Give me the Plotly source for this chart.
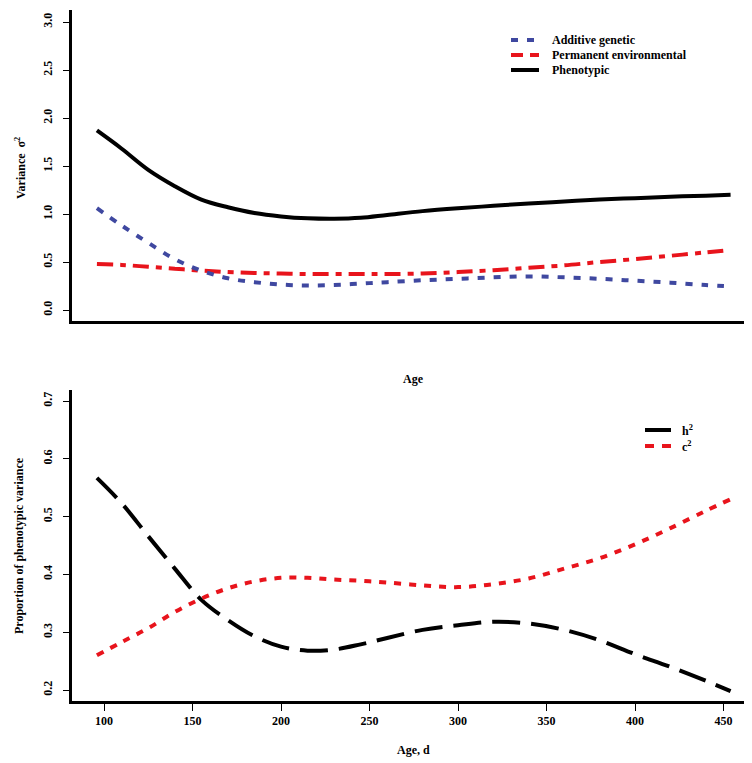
import plotly.graph_objects as go

# ---- data ----
ages = [96, 110, 125, 140, 155, 170, 185, 200, 215, 230, 245, 260, 280, 300, 320, 340, 360, 380, 400, 420, 440, 454]
additive_genetic = [1.06, 0.88, 0.70, 0.53, 0.41, 0.33, 0.29, 0.265, 0.255, 0.26, 0.275, 0.29, 0.31, 0.325, 0.34, 0.35, 0.34, 0.325, 0.305, 0.285, 0.26, 0.245]
permanent_env = [0.48, 0.47, 0.45, 0.43, 0.41, 0.395, 0.385, 0.38, 0.375, 0.375, 0.375, 0.375, 0.38, 0.395, 0.415, 0.44, 0.465, 0.50, 0.53, 0.565, 0.60, 0.625]
phenotypic = [1.87, 1.68, 1.46, 1.29, 1.15, 1.07, 1.01, 0.975, 0.955, 0.95, 0.96, 0.99, 1.03, 1.06, 1.085, 1.11, 1.13, 1.15, 1.165, 1.18, 1.19, 1.20]
h2 = [0.567, 0.523, 0.466, 0.41, 0.356, 0.321, 0.293, 0.275, 0.268, 0.27, 0.279, 0.29, 0.304, 0.312, 0.318, 0.315, 0.304, 0.286, 0.262, 0.24, 0.216, 0.198]
c2 = [0.26, 0.283, 0.307, 0.335, 0.358, 0.376, 0.388, 0.394, 0.394, 0.391, 0.389, 0.386, 0.381, 0.378, 0.383, 0.393, 0.41, 0.428, 0.452, 0.48, 0.51, 0.53]

x_ticks = [100, 150, 200, 250, 300, 350, 400, 450]
top_y_ticks = [0.0, 0.5, 1.0, 1.5, 2.0, 2.5, 3.0]
bottom_y_ticks = [0.2, 0.3, 0.4, 0.5, 0.6, 0.7]

BLUE = "#3f48a0"
RED = "#e8141c"
BLACK = "#000000"
FONT = "Liberation Serif"

W, H = 752, 763
ML, MR, MT, MB = 64, 5, 2, 70
PW = W - ML - MR
PH = H - MT - MB


def px(x):
    return (x - ML) / PW


def py(y):
    return 1 - (y - MT) / PH


fig = go.Figure()

fig.add_trace(go.Scatter(x=ages, y=phenotypic, mode="lines", line=dict(color=BLACK, width=4, shape="spline"),
                         xaxis="x", yaxis="y", showlegend=False))
fig.add_trace(go.Scatter(x=ages, y=permanent_env, mode="lines",
                         line=dict(color=RED, width=4, shape="spline", dash="16px,7px,6px,7px"),
                         xaxis="x", yaxis="y", showlegend=False))
fig.add_trace(go.Scatter(x=ages, y=additive_genetic, mode="lines",
                         line=dict(color=BLUE, width=4, shape="spline", dash="7px,9px"),
                         xaxis="x", yaxis="y", showlegend=False))

fig.add_trace(go.Scatter(x=ages, y=h2, mode="lines",
                         line=dict(color=BLACK, width=4, shape="spline", dash="28px,11px"),
                         xaxis="x2", yaxis="y2", showlegend=False))
fig.add_trace(go.Scatter(x=ages, y=c2, mode="lines",
                         line=dict(color=RED, width=4, shape="spline", dash="7px,8px"),
                         xaxis="x2", yaxis="y2", showlegend=False))

tickfont = dict(family=FONT, size=12, color=BLACK, weight="bold")

top_dom = [py(313), 1.0]
bot_dom = [0.0, py(382)]

xr = [100 + (64 - 96) / 1.77, 100 + (747 - 96) / 1.77]

fig.update_layout(
    width=W, height=H,
    margin=dict(l=ML, r=MR, t=MT, b=MB),
    paper_bgcolor="white", plot_bgcolor="white",
    showlegend=False,
    xaxis=dict(domain=[0, 1], range=xr, showline=True, linewidth=3, linecolor=BLACK,
               showgrid=False, zeroline=False, showticklabels=False, ticks="", anchor="y"),
    yaxis=dict(domain=top_dom, range=[-(313 - 302) / 96, (302 - 2) / 96], showline=True, linewidth=3,
               linecolor=BLACK, showgrid=False, zeroline=False, tickvals=top_y_ticks,
               ticktext=[f"{v:.1f}" for v in top_y_ticks], ticks="outside", ticklen=6, tickwidth=1,
               tickcolor=BLACK, tickangle=-90, tickfont=tickfont, ticklabelstandoff=6, anchor="x"),
    xaxis2=dict(domain=[0, 1], range=xr, showline=True, linewidth=3, linecolor=BLACK,
                showgrid=False, zeroline=False, tickvals=x_ticks, ticks="outside", ticklen=7,
                tickwidth=1, tickcolor=BLACK, tickfont=tickfont, anchor="y2"),
    yaxis2=dict(domain=bot_dom, range=[0.2 - 11 / 578, 0.7 + 11 / 578], showline=True, linewidth=3,
                linecolor=BLACK, showgrid=False, zeroline=False, tickvals=bottom_y_ticks,
                ticktext=[f"{v:.1f}" for v in bottom_y_ticks], ticks="outside", ticklen=6, tickwidth=1,
                tickcolor=BLACK, tickangle=-90, tickfont=tickfont, ticklabelstandoff=6, anchor="x2"),
)

textfont = dict(family=FONT, size=12, color=BLACK, weight="bold")
ann = []
# axis titles
ann.append(dict(x=px(12), y=py(160), xref="paper", yref="paper", text="Variance\u00a0\u00a0σ<sup>2</sup>",
                textangle=-90, showarrow=False, font=textfont, xanchor="center", yanchor="middle"))
ann.append(dict(x=px(11), y=py(538), xref="paper", yref="paper", text="Proportion of phenotypic variance",
                textangle=-90, showarrow=False, font=textfont, xanchor="center", yanchor="middle"))
ann.append(dict(x=px(405), y=py(371), xref="paper", yref="paper", text="Age", showarrow=False,
                font=textfont, xanchor="center", yanchor="middle"))
ann.append(dict(x=px(405), y=py(742), xref="paper", yref="paper", text="Age, d", showarrow=False,
                font=textfont, xanchor="center", yanchor="middle"))

shapes = []
# top legend
top_leg = [("Additive genetic", BLUE, "7px,9px", 32),
           ("Permanent environmental", RED, "12px,7px", 47),
           ("Phenotypic", BLACK, "solid", 62)]
for name, col, dash, yy in top_leg:
    shapes.append(dict(type="line", xref="paper", yref="paper", x0=px(503), x1=px(531), y0=py(yy), y1=py(yy),
                       line=dict(color=col, width=4, dash=dash)))
    ann.append(dict(x=px(542), y=py(yy), xref="paper", yref="paper", text=name, showarrow=False,
                    font=textfont, xanchor="left", yanchor="middle"))
# bottom legend
bot_leg = [("h<sup>2</sup>", BLACK, "solid", 422), ("c<sup>2</sup>", RED, "9px,8px", 438)]
for name, col, dash, yy in bot_leg:
    shapes.append(dict(type="line", xref="paper", yref="paper", x0=px(637), x1=px(663), y0=py(yy), y1=py(yy),
                       line=dict(color=col, width=4, dash=dash)))
    ann.append(dict(x=px(672), y=py(yy), xref="paper", yref="paper", text=name, showarrow=False,
                    font=textfont, xanchor="left", yanchor="middle"))

fig.update_layout(annotations=ann, shapes=shapes)

fig.write_html("out.html")
